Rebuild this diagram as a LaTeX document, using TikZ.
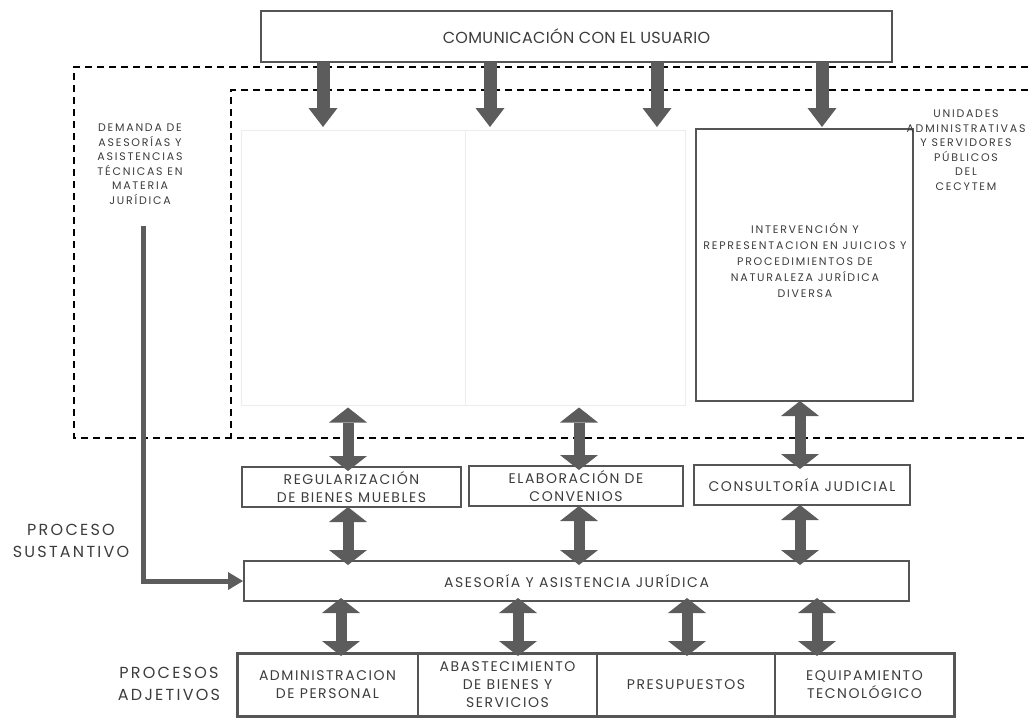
\documentclass[tikz,border=0pt]{standalone}
\usepackage{fontspec}
\setmainfont{Poppins}
\newfontfamily\trackTitle{Poppins}[LetterSpace=2]
\newfontfamily\trackMid{Poppins}[LetterSpace=11]
\newfontfamily\trackSmall{Poppins}[LetterSpace=16]
\newfontfamily\trackBig{Poppins}[LetterSpace=14]
\usetikzlibrary{arrows.meta}
\definecolor{arrowgray}{RGB}{92,92,92}
\definecolor{boxline}{RGB}{85,85,85}
\definecolor{ink}{RGB}{60,60,60}
\definecolor{faint}{RGB}{236,236,236}

\tikzset{
  lbl/.style={inner sep=0pt, outer sep=0pt, text=ink, align=center},
  box/.style={lbl, draw=boxline, line width=1.1pt, rectangle},
  cell/.style={lbl, draw=boxline, line width=1.6pt, rectangle},
  ghost/.style={draw=faint, line width=1pt, rectangle, inner sep=0pt},
  boundary/.style={draw=black, line width=1.1pt, dash pattern=on 7pt off 5pt},
  downarrow/.style={draw=arrowgray, line width=13pt,
    -{Triangle[width=29pt,length=19pt,line width=0pt]}},
  dblarrow/.style={draw=arrowgray, line width=11pt,
    {Triangle[width=38pt,length=15pt,line width=0pt]}-{Triangle[width=38pt,length=15pt,line width=0pt]}},
  feedarrow/.style={draw=arrowgray, line width=5pt, line join=miter,
    -{Triangle[width=18pt,length=15pt,line width=0pt]}},
  title/.style={font=\trackTitle\fontsize{16pt}{19pt}\selectfont},
  small/.style={font=\trackSmall\fontsize{11pt}{14.5pt}\selectfont},
  smallwide/.style={font=\trackSmall\fontsize{11pt}{16pt}\selectfont},
  mid/.style={font=\trackMid\fontsize{14pt}{18pt}\selectfont},
  big/.style={font=\trackBig\fontsize{16pt}{22pt}\selectfont},
}

\begin{document}
\begin{tikzpicture}[x=1pt,y=-1pt]
\useasboundingbox (0,0) rectangle (1028,718);

% dashed boundaries (open to the right)
\draw[boundary] (1040,67) -- (74,67) -- (74,438) -- (1040,438);
\draw[boundary] (1040,90) -- (231,90) -- (231,438);

% top box
\node[box, title, minimum width=631pt, minimum height=51pt]
  (usuario) at (576.5,36.5) {COMUNICACIÓN CON EL USUARIO};

% faint empty panels
\node[ghost, minimum width=224pt, minimum height=275pt] (panelA) at (353,267.5) {};
\node[ghost, minimum width=220pt, minimum height=275pt] (panelB) at (575,267.5) {};

% judicial representation box
\node[box, minimum width=217pt, minimum height=272pt] (interv) at (804.5,265) {};
\node[lbl, smallwide] (intervtxt) at (805,260)
  {INTERVENCIÓN Y\\REPRESENTACION EN JUICIOS Y\\PROCEDIMIENTOS DE\\NATURALEZA JURÍDICA\\DIVERSA};

% side labels
\node[lbl, small] (demanda) at (140,164)
  {DEMANDA DE\\ASESORÍAS Y\\ASISTENCIAS\\TÉCNICAS EN\\MATERIA\\JURÍDICA};
\node[lbl, small] (unidades) at (966,150)
  {UNIDADES\\ADMINISTRATIVAS\\Y SERVIDORES\\PÚBLICOS\\DEL\\CECYTEM};
\node[lbl, big] (sustantivo) at (71,541) {PROCESO\\SUSTANTIVO};
\node[lbl, big] (adjetivos) at (169,684) {PROCESOS\\ADJETIVOS};

% middle row
\node[box, mid, minimum width=219pt, minimum height=40pt] (regul) at (351.5,487)
  {REGULARIZACIÓN\\DE BIENES MUEBLES};
\node[box, mid, minimum width=214pt, minimum height=40pt] (conven) at (576,486)
  {ELABORACIÓN DE\\CONVENIOS};
\node[box, mid, minimum width=216pt, minimum height=40pt] (consul) at (802,485)
  {CONSULTORÍA JUDICIAL};

% central process
\node[box, mid, minimum width=665pt, minimum height=40pt] (asesoria) at (576.5,581)
  {ASESORÍA Y ASISTENCIA JURÍDICA};

% supporting processes
\node[cell, mid, minimum width=181pt, minimum height=63pt] (personal) at (327.5,684.5)
  {ADMINISTRACION\\DE PERSONAL};
\node[cell, mid, minimum width=179pt, minimum height=63pt] (abasto) at (507.5,684.5)
  {ABASTECIMIENTO\\DE BIENES Y\\SERVICIOS};
\node[cell, mid, minimum width=178pt, minimum height=63pt] (presup) at (686,684.5)
  {PRESUPUESTOS};
\node[cell, mid, minimum width=179pt, minimum height=63pt] (equipo) at (864.5,684.5)
  {EQUIPAMIENTO\\TECNOLÓGICO};
\draw[boxline, line width=3pt] (personal.north west) rectangle (equipo.south east);

% arrows from the user communication box
\coordinate (d1) at (323,127);
\coordinate (d2) at (490,127);
\coordinate (d3) at (657,127);
\coordinate (d4) at (822,127);
\foreach \d in {d1,d2,d3,d4}
  \draw[downarrow] (usuario.south -| \d) -- (\d);

% two-way links
\coordinate (u1) at (348,0);
\coordinate (u2) at (579,0);
\coordinate (u3) at (800,0);
\draw[dblarrow] ([yshift=-2pt]panelA.south -| u1) -- ([yshift=-4pt]regul.north -| u1);
\draw[dblarrow] ([yshift=-2pt]panelB.south -| u2) -- ([yshift=-4pt]conven.north -| u2);
\draw[dblarrow] (interv.south -| u3) -- ([yshift=-4pt]consul.north -| u3);
\draw[dblarrow] (regul.south -| u1) -- ([yshift=-4pt]asesoria.north -| u1);
\draw[dblarrow] (conven.south -| u2) -- ([yshift=-4pt]asesoria.north -| u2);
\draw[dblarrow] (consul.south -| u3) -- ([yshift=-4pt]asesoria.north -| u3);

\coordinate (b1) at (341,0);
\coordinate (b2) at (518,0);
\coordinate (b3) at (687,0);
\coordinate (b4) at (817,0);
\foreach \b in {b1,b2,b3,b4}
  \draw[dblarrow] ([yshift=3pt]asesoria.south -| \b) -- ([yshift=-3pt]personal.north -| \b);

% demand feeding the central process
\coordinate (dstart) at (143,226);
\draw[feedarrow] (dstart) |- ([xshift=-1pt]asesoria.west);
\end{tikzpicture}
\end{document}
